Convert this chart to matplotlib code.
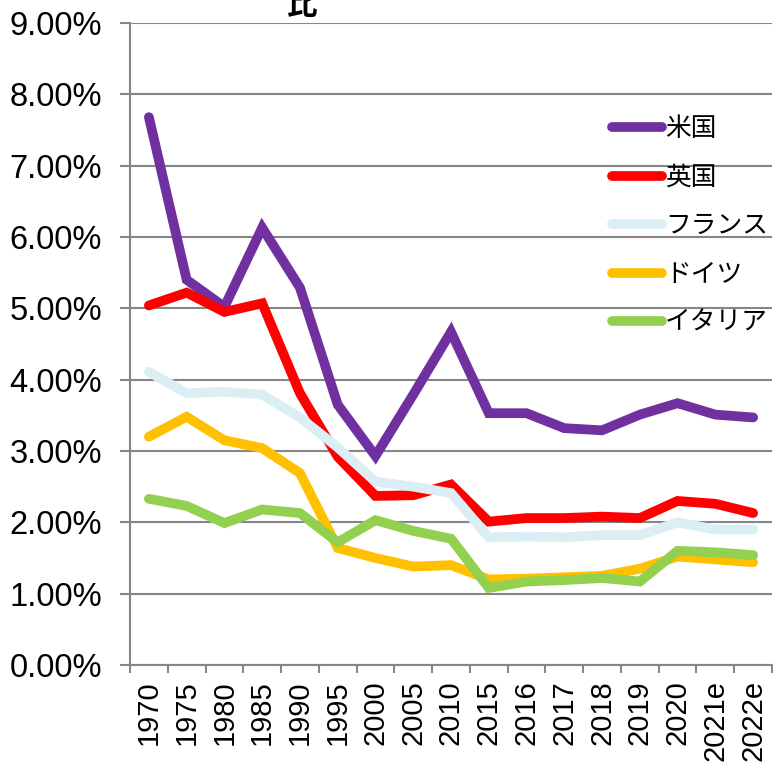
import numpy as np
import matplotlib
matplotlib.use("Agg")
import matplotlib.pyplot as plt

plt.rcParams['font.family'] = ['Liberation Sans', 'Noto Sans CJK JP']

years = ['1970', '1975', '1980', '1985', '1990', '1995', '2000', '2005', '2010',
         '2015', '2016', '2017', '2018', '2019', '2020', '2021e', '2022e']

us = [7.68, 5.40, 5.02, 6.13, 5.29, 3.65, 2.93, 3.79, 4.67,
      3.53, 3.53, 3.32, 3.29, 3.51, 3.67, 3.51, 3.47]
uk = [5.04, 5.22, 4.95, 5.07, 3.81, 2.92, 2.37, 2.38, 2.53,
      2.01, 2.06, 2.06, 2.08, 2.06, 2.30, 2.26, 2.13]
france = [4.11, 3.81, 3.83, 3.79, 3.47, 3.05, 2.57, 2.50, 2.41,
          1.79, 1.80, 1.79, 1.82, 1.82, 2.00, 1.90, 1.90]
germany = [3.20, 3.48, 3.15, 3.04, 2.69, 1.64, 1.50, 1.38, 1.40,
           1.20, 1.21, 1.23, 1.25, 1.35, 1.52, 1.48, 1.44]
italy = [2.33, 2.23, 1.99, 2.18, 2.13, 1.72, 2.03, 1.88, 1.77,
         1.08, 1.17, 1.19, 1.22, 1.17, 1.60, 1.58, 1.54]

names = ['米国', '英国', 'フランス', 'ドイツ', 'イタリア']
colors = ['#7030A0', '#FF0000', '#DBEEF3', '#FFC000', '#92D050']

fig = plt.figure(figsize=(7.73, 7.62), dpi=100)
ax = fig.add_axes([130/773, 1-665/762, 642/773, 642/762])

x = np.arange(len(years))
for vals, name, c in zip([us, uk, france, germany, italy], names, colors):
    ax.plot(x, vals, color=c, lw=7, label=name, solid_capstyle='round',
            solid_joinstyle='miter')

ax.set_xlim(-0.5, len(years) - 0.5)
ax.set_ylim(0, 9)
ax.set_yticks(np.arange(0, 10, 1))
ax.set_yticklabels(['%.2f%%' % v for v in range(10)], fontsize=23.5)
ax.yaxis.grid(True, color='#868686', lw=1.5)
ax.set_axisbelow(True)

ax.set_xticks(x)
ax.set_xticklabels(years, rotation=90, fontsize=21)
ax.set_xticks(np.arange(-0.5, len(years), 1), minor=True)
ax.tick_params(axis='x', which='major', length=0, pad=11)
ax.tick_params(axis='x', which='minor', length=6, color='#868686', width=1.5)
ax.tick_params(axis='y', length=7, color='#868686', width=1.5, pad=13)

for s in ['top', 'right']:
    ax.spines[s].set_visible(False)
for s in ['left', 'bottom']:
    ax.spines[s].set_color('#868686')
    ax.spines[s].set_linewidth(1.5)

ax.legend(loc='upper left', bbox_to_anchor=(602/773, 1-107/762),
          bbox_transform=fig.transFigure, frameon=False, fontsize=18.5,
          handlelength=1.95, handletextpad=0.1, labelspacing=0.95,
          borderaxespad=0)

fig.text(302/773, 1-14/762, '比', fontsize=22, fontweight='bold',
         ha='center', va='baseline')

fig.savefig('out.png', dpi=100)
